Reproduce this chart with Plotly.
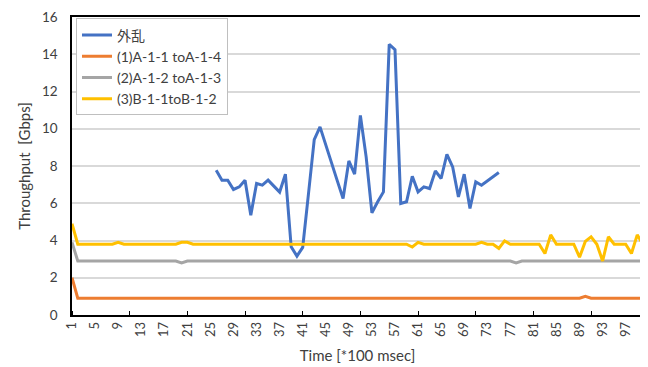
import plotly.graph_objects as go

categories = list(range(1, 101))
x_tick_labels = [str(v) for v in range(1, 98, 4)]

names = ["外乱", "(1)A-1-1 toA-1-4", "(2)A-1-2 toA-1-3", "(3)B-1-1toB-1-2"]
colors = ["#4472C4", "#ED7D31", "#A5A5A5", "#FFC000"]

disturbance = [
    None, None, None, None, None, None, None, None, None, None,
    None, None, None, None, None, None, None, None, None, None,
    None, None, None, None, None, 7.77, 7.24, 7.24, 6.74, 6.88,
    7.24, 5.36, 7.06, 6.97, 7.24, 6.92, 6.6, 7.56, 3.66, 3.16,
    3.63, 6.5, 9.42, 10.1, 9.1, 8.2, 7.2, 6.26, 8.27, 7.56,
    10.72, 8.49, 5.49, 6.08, 6.61, 14.53, 14.25, 5.99, 6.08, 7.45,
    6.61, 6.88, 6.79, 7.74, 7.33, 8.63, 7.95, 6.34, 7.56, 5.72,
    7.15, 6.97, 7.2, 7.4, 7.65, None, None, None, None, None,
    None, None, None, None, None, None, None, None, None, None,
    None, None, None, None, None, None, None, None, None, None,
]

flow1 = [
    2.0, 0.9, 0.9, 0.9, 0.9, 0.9, 0.9, 0.9, 0.9, 0.9,
    0.9, 0.9, 0.9, 0.9, 0.9, 0.9, 0.9, 0.9, 0.9, 0.9,
    0.9, 0.9, 0.9, 0.9, 0.9, 0.9, 0.9, 0.9, 0.9, 0.9,
    0.9, 0.9, 0.9, 0.9, 0.9, 0.9, 0.9, 0.9, 0.9, 0.9,
    0.9, 0.9, 0.9, 0.9, 0.9, 0.9, 0.9, 0.9, 0.9, 0.9,
    0.9, 0.9, 0.9, 0.9, 0.9, 0.9, 0.9, 0.9, 0.9, 0.9,
    0.9, 0.9, 0.9, 0.9, 0.9, 0.9, 0.9, 0.9, 0.9, 0.9,
    0.9, 0.9, 0.9, 0.9, 0.9, 0.9, 0.9, 0.9, 0.9, 0.9,
    0.9, 0.9, 0.9, 0.9, 0.9, 0.9, 0.9, 0.9, 0.9, 1.0,
    0.9, 0.9, 0.9, 0.9, 0.9, 0.9, 0.9, 0.9, 0.9, 0.9,
]

flow2 = [
    3.9, 2.9, 2.9, 2.9, 2.9, 2.9, 2.9, 2.9, 2.9, 2.9,
    2.9, 2.9, 2.9, 2.9, 2.9, 2.9, 2.9, 2.9, 2.9, 2.8,
    2.9, 2.9, 2.9, 2.9, 2.9, 2.9, 2.9, 2.9, 2.9, 2.9,
    2.9, 2.9, 2.9, 2.9, 2.9, 2.9, 2.9, 2.9, 2.9, 2.9,
    2.9, 2.9, 2.9, 2.9, 2.9, 2.9, 2.9, 2.9, 2.9, 2.9,
    2.9, 2.9, 2.9, 2.9, 2.9, 2.9, 2.9, 2.9, 2.9, 2.9,
    2.9, 2.9, 2.9, 2.9, 2.9, 2.9, 2.9, 2.9, 2.9, 2.9,
    2.9, 2.9, 2.9, 2.9, 2.9, 2.9, 2.9, 2.8, 2.9, 2.9,
    2.9, 2.9, 2.9, 2.9, 2.9, 2.9, 2.9, 2.9, 2.9, 2.9,
    2.9, 2.9, 2.9, 2.9, 2.9, 2.9, 2.9, 2.9, 2.9, 2.9,
]

flow3 = [
    4.9, 3.8, 3.8, 3.8, 3.8, 3.8, 3.8, 3.8, 3.9, 3.8,
    3.8, 3.8, 3.8, 3.8, 3.8, 3.8, 3.8, 3.8, 3.8, 3.9,
    3.9, 3.8, 3.8, 3.8, 3.8, 3.8, 3.8, 3.8, 3.8, 3.8,
    3.8, 3.8, 3.8, 3.8, 3.8, 3.8, 3.8, 3.8, 3.8, 3.8,
    3.8, 3.8, 3.8, 3.8, 3.8, 3.8, 3.8, 3.8, 3.8, 3.8,
    3.8, 3.8, 3.8, 3.8, 3.8, 3.8, 3.8, 3.8, 3.8, 3.65,
    3.9, 3.8, 3.8, 3.8, 3.8, 3.8, 3.8, 3.8, 3.8, 3.8,
    3.8, 3.9, 3.8, 3.8, 3.58, 3.98, 3.8, 3.8, 3.8, 3.8,
    3.8, 3.8, 3.3, 4.3, 3.8, 3.8, 3.8, 3.8, 3.1, 3.95,
    4.2, 3.8, 2.9, 4.2, 3.8, 3.8, 3.8, 3.3, 4.3, 3.8,
]

series = [disturbance, flow1, flow2, flow3]

FONT = "Lato, 'Noto Sans CJK JP', sans-serif"

fig = go.Figure()
for name, color, vals in zip(names, colors, series):
    fig.add_trace(go.Scatter(
        x=categories, y=vals, name=name, mode="lines",
        line=dict(color=color, width=3), connectgaps=False,
    ))

fig.update_layout(
    width=640, height=359,
    margin=dict(l=64, r=5, t=9, b=52, autoexpand=False),
    paper_bgcolor="white", plot_bgcolor="white",
    font=dict(family=FONT, color="#404040", size=13),
    showlegend=True,
    legend=dict(
        x=0.007, y=0.995, xanchor="left", yanchor="top",
        bgcolor="white", bordercolor="#BFBFBF", borderwidth=1,
        font=dict(family=FONT, size=14, color="#404040"),
        tracegroupgap=0,
    ),
)

fig.update_xaxes(
    range=[1, 100],
    tickmode="array", tickvals=list(range(1, 98, 4)), ticktext=x_tick_labels,
    tickangle=-90, ticks="", showgrid=False,
    tickfont=dict(size=13, color="#404040"),
    showline=True, linecolor="black", linewidth=1.5, mirror=True,
    minor=dict(tickmode="array", tickvals=list(range(1, 101, 10)),
               ticks="inside", ticklen=4, tickcolor="black", showgrid=False),
    title=dict(text="Time [*100 msec]", font=dict(size=15, color="#404040"), standoff=14),
    zeroline=False, automargin=False,
)

fig.update_yaxes(
    range=[0, 16], dtick=2, tick0=0,
    showgrid=True, gridcolor="#D9D9D9", gridwidth=1.5,
    ticks="", tickfont=dict(size=13.5, color="#404040"), ticklabelstandoff=10,
    ticklabeloverflow="allow",
    showline=True, linecolor="black", linewidth=1.5, mirror=True,
    title=dict(text="Throughput  [Gbps]", font=dict(size=15, color="#404040"), standoff=8),
    zeroline=False, automargin=False,
)

fig.write_html("out.html")
